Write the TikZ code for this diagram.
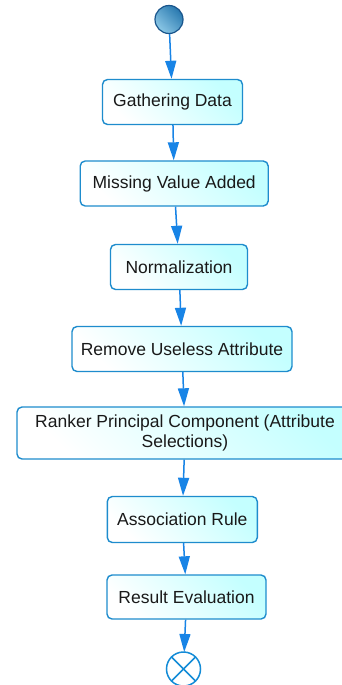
\documentclass[tikz,border=0pt]{standalone}
\usepackage{fontspec}
\setmainfont{Liberation Sans}
\usetikzlibrary{arrows.meta}
\definecolor{edgeblue}{RGB}{24,132,230}
\definecolor{boxline}{RGB}{30,140,205}
\definecolor{boxfill}{RGB}{196,255,255}
\definecolor{startlight}{RGB}{140,200,230}
\definecolor{startdark}{RGB}{40,120,175}
\definecolor{startline}{RGB}{25,85,140}
\definecolor{endline}{RGB}{20,140,215}
\tikzset{
  x=1pt, y=-1pt,
  stepbox/.style={draw=boxline, line width=1.4pt, rounded corners=5pt,
    left color=white, right color=boxfill, shading angle=135,
    minimum height=45pt, inner sep=0pt, align=center,
    font=\fontsize{17.5}{20}\selectfont, text=black!90},
  flow/.style={draw=edgeblue, line width=1.5pt,
    -{Triangle[length=18pt,width=11pt]}},
  startdot/.style={circle, draw=startline, line width=1.2pt, minimum size=28pt,
    inner sep=0pt, left color=startlight, right color=startdark, shading angle=135},
  endring/.style={circle, draw=endline, line width=1.5pt, minimum size=34pt,
    inner sep=0pt, fill=white, outer sep=0pt},
  endcross/.style={draw=endline, line width=1.5pt}
}
\begin{document}
\begin{tikzpicture}
\useasboundingbox (0,0) rectangle (342,685);
\clip (0,0) rectangle (342,685);
\fill[white] (0,0) rectangle (342,685);

% start node
\node[startdot] (start) at (169,19.5) {};

% activity boxes
\node[stepbox, minimum width=140pt] (gather) at (172.5,102) {Gathering Data};
\node[stepbox, minimum width=188pt] (missing) at (174.2,183.5) {Missing Value Added};
\node[stepbox, minimum width=137pt] (norm) at (179,267) {Normalization};
\node[stepbox, minimum width=220pt] (remove) at (182,349) {Remove Useless Attribute};
\node[stepbox, minimum width=336pt, minimum height=52pt] (ranker) at (185,433)
  {Ranker Principal Component (Attribute\\Selections)};
\node[stepbox, minimum width=150pt, minimum height=46pt] (assoc) at (182.3,519.5) {Association Rule};
\node[stepbox, minimum width=159pt, minimum height=44pt] (result) at (186.5,597) {Result Evaluation};

% final node: ring with an inscribed cross
\node[endring] (end) at (183.5,669) {};
\draw[endcross] (end.45) -- (end.225);
\draw[endcross] (end.135) -- (end.-45);

% control flow
\draw[flow] (start) -- (gather);
\draw[flow] (gather) -- (missing);
\draw[flow] (missing) -- (norm);
\draw[flow] (norm) -- (remove);
\draw[flow] (remove) -- (ranker);
\draw[flow] (ranker) -- (assoc);
\draw[flow] (assoc) -- (result);
\draw[flow] (result) -- (end);
\end{tikzpicture}
\end{document}
